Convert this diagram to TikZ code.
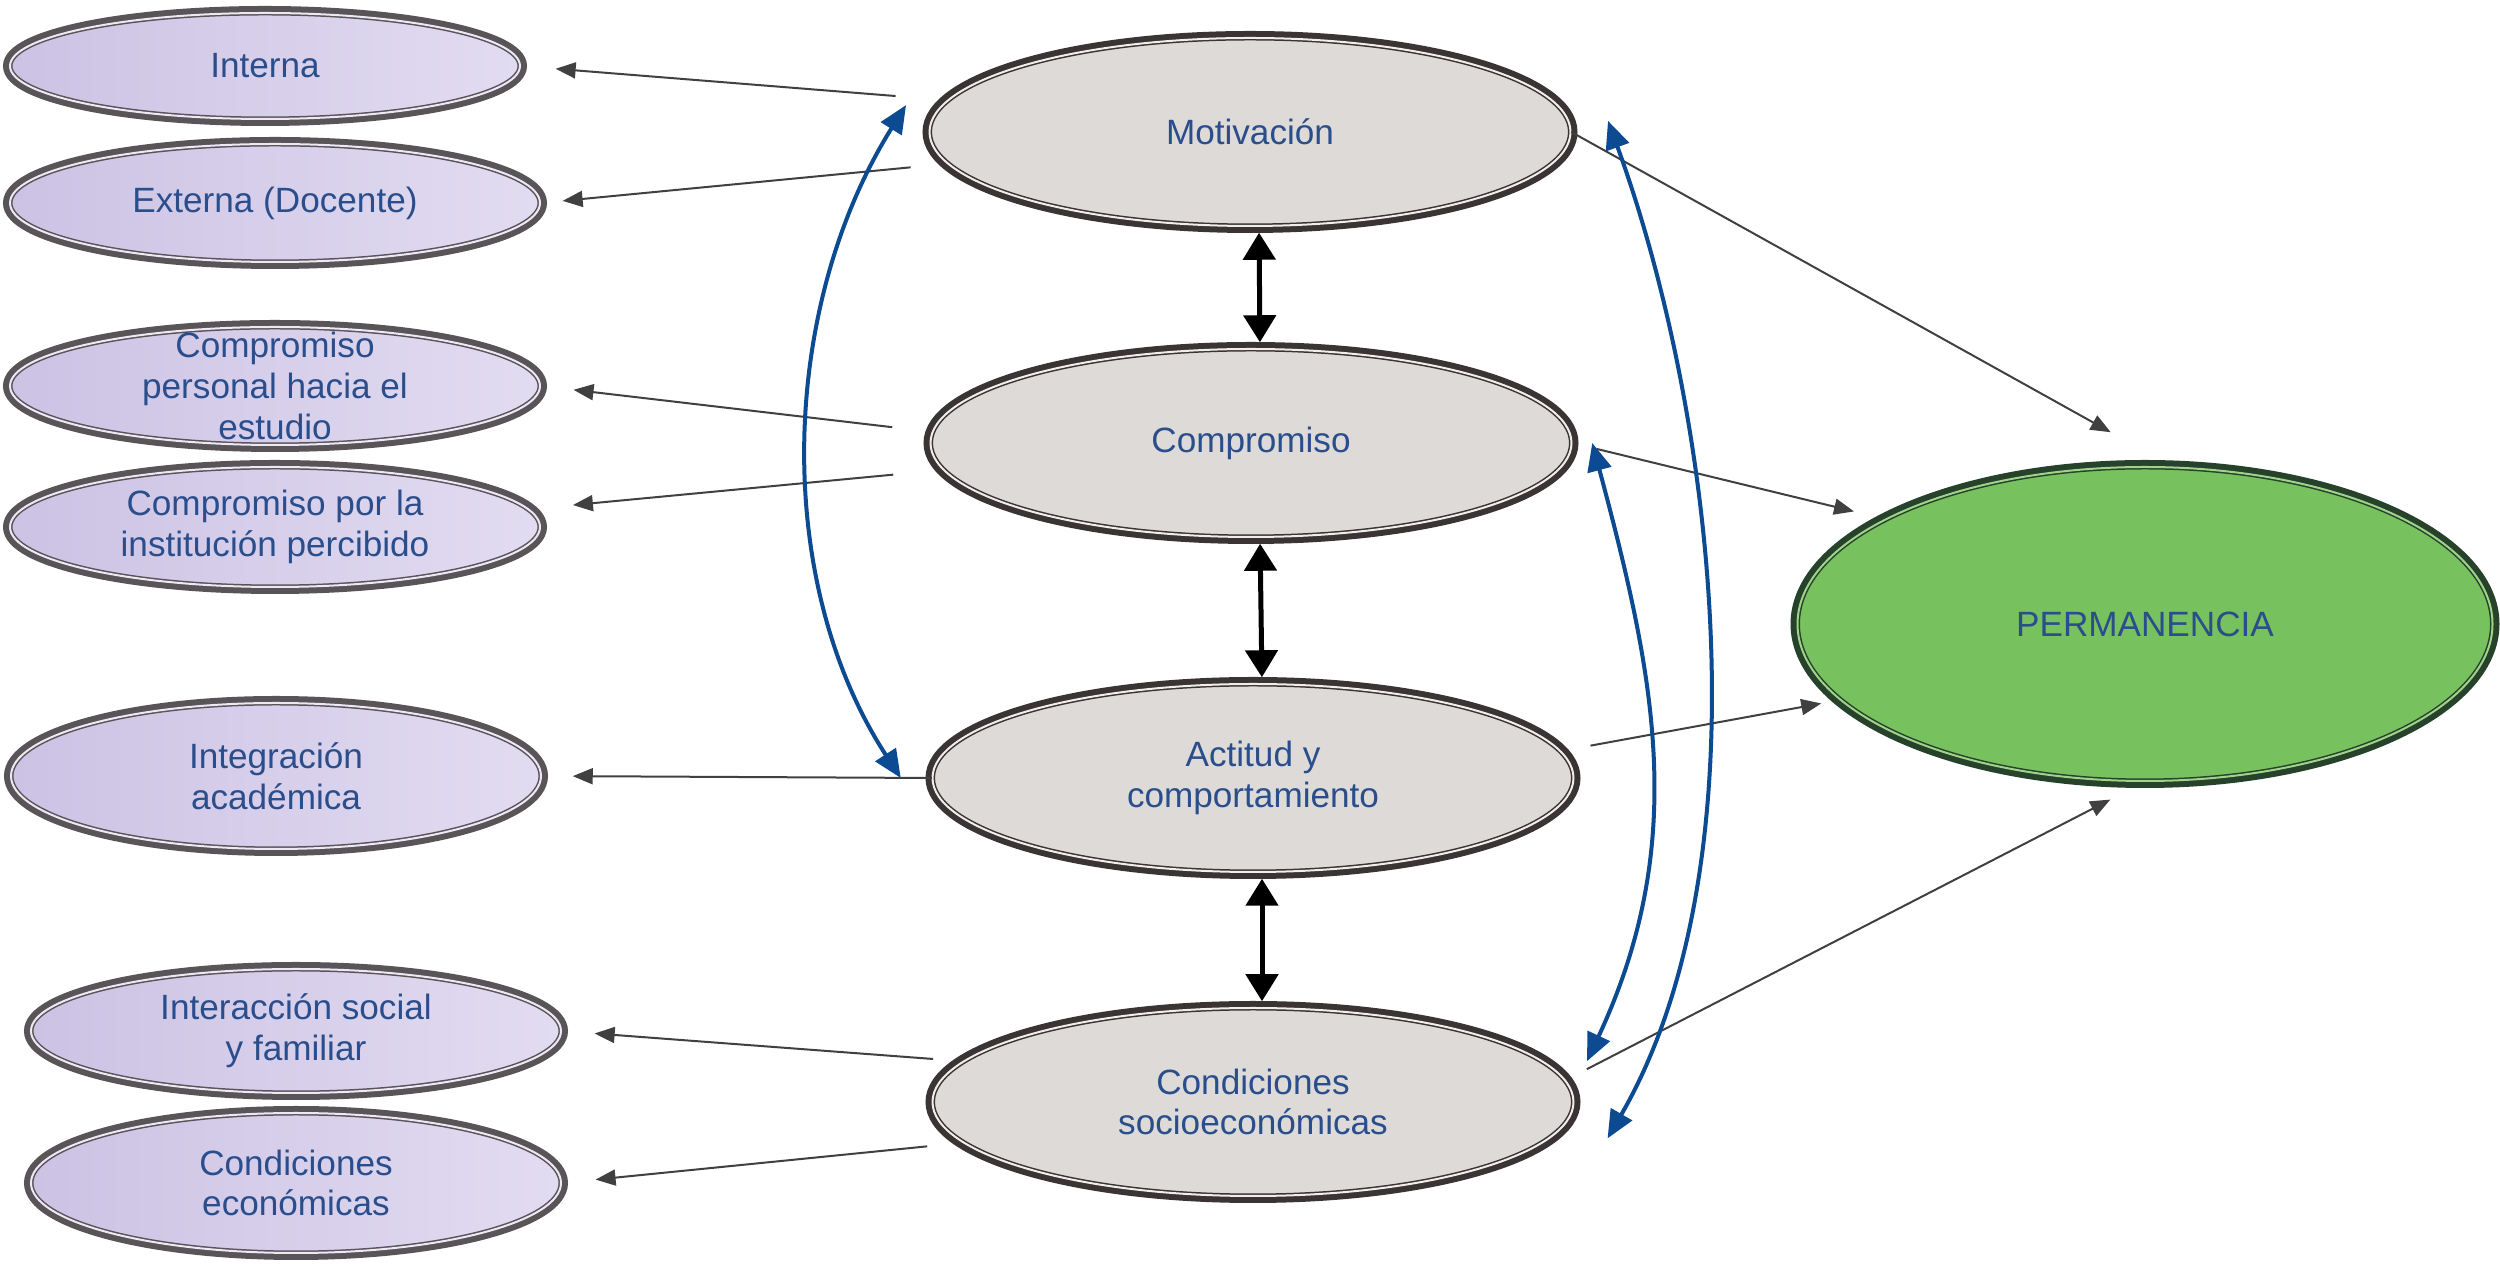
\documentclass[tikz,border=0pt]{standalone}
\usepackage{fontspec}
\setmainfont{Liberation Sans}
\usetikzlibrary{shapes.geometric,arrows.meta}

\definecolor{txtblue}{RGB}{42,78,140}
\definecolor{arcblue}{RGB}{12,74,145}
\definecolor{leafline}{RGB}{88,84,88}
\definecolor{leafgap}{RGB}{236,232,244}
\definecolor{lilacdark}{RGB}{204,194,228}
\definecolor{lilaclight}{RGB}{226,220,241}
\definecolor{coreline}{RGB}{58,52,52}
\definecolor{coregap}{RGB}{240,238,236}
\definecolor{coregrey}{RGB}{221,218,215}
\definecolor{goalline}{RGB}{38,66,42}
\definecolor{goalgap}{RGB}{160,210,140}
\definecolor{goalgreen}{RGB}{120,193,95}

\begin{document}
\begin{tikzpicture}[x=0.1mm, y=0.1mm,
  every node/.style = {align=center, text=txtblue, font=\fontsize{10}{11.6}\selectfont, inner sep=1pt},
  leaf/.style = {ellipse, inner sep=0pt, preaction={draw=leafline, line width=1.4mm},
    draw=leafline, line width=0.15mm, double=leafgap, double distance=0.2mm,
    left color=lilacdark, right color=lilaclight, minimum width=5.3cm, minimum height=1.18cm},
  core/.style = {ellipse, preaction={draw=coreline, line width=1.4mm},
    draw=coreline, line width=0.15mm, double=coregap, double distance=0.2mm,
    fill=coregrey, minimum width=6.41cm, minimum height=1.88cm},
  goal/.style = {ellipse, preaction={draw=goalline, line width=1.4mm},
    draw=goalline, line width=0.15mm, double=goalgap, double distance=0.2mm,
    fill=goalgreen, minimum width=6.95cm, minimum height=3.14cm},
  conn/.style = {draw=black!75, line width=0.2mm, -{Triangle[length=2mm,width=1.6mm]}, shorten >=3.3mm},
  twoway/.style = {draw=black, line width=0.5mm,
    {Triangle[length=2.7mm,width=3.2mm]}-{Triangle[length=2.7mm,width=3.2mm]}, shorten <=0.6mm, shorten >=0.6mm},
  bluearc/.style = {draw=arcblue, line width=0.4mm,
    {Triangle[length=2.8mm,width=2.4mm]}-{Triangle[length=2.8mm,width=2.4mm]}}]
  \useasboundingbox (0,0) rectangle (2500,1269);

  \node[leaf, minimum width=5.1cm, minimum height=1.06cm] (int) at (265,1203) {Interna};
  \node[leaf] (ext) at (275,1066) {Externa (Docente)};
  \node[leaf, inner ysep=-2mm] (cpers) at (275,883) {Compromiso\\personal hacia el\\estudio};
  \node[leaf, minimum height=1.2cm] (cinst) at (275,742) {Compromiso por la\\institución percibido};
  \node[leaf, minimum height=1.46cm] (integ) at (276,493) {Integración\\académica};
  \node[leaf, minimum height=1.24cm] (inter) at (296,238) {Interacción social\\y familiar};
  \node[leaf, minimum height=1.4cm] (econ) at (296,86) {Condiciones\\económicas};

  \node[core] (mot) at (1250,1137) {Motivación};
  \node[core] (comp) at (1251,826) {Compromiso};
  \node[core] (act) at (1253,491) {Actitud y\\comportamiento};
  \node[core] (cond) at (1253,167) {Condiciones\\socioeconómicas};

  \node[goal] (perm) at (2145,645) {PERMANENCIA};

  \draw[conn, shorten <=5.2mm, shorten >=3.5mm] (mot.174) -- (int.east);
  \draw[conn, shorten <=3.7mm, shorten >=2.2mm] (mot.186) -- (ext.east);
  \draw[conn, shorten <=4mm] (comp.178) -- (cpers.east);
  \draw[conn, shorten <=5mm, shorten >=4.4mm] (comp.185) -- (cinst.4);
  \draw[conn, shorten >=3.1mm] (act.west) -- (integ.east);
  \draw[conn, shorten <=3mm] (cond.172) -- (inter.east);
  \draw[conn, shorten <=3.6mm, shorten >=3.4mm] (cond.188) -- (econ.east);

  \draw[conn, shorten >=7.1mm] (mot.east) -- (perm.80);
  \draw[conn, shorten <=2.5mm, shorten >=3.2mm] (comp.east) -- (perm.158);
  \draw[conn, shorten <=3mm, shorten >=1.9mm] (act.5) -- (perm.194);
  \draw[conn, shorten <=2.4mm, shorten >=3.9mm] (cond.4) -- (perm.south);

  \draw[twoway] ([xshift=0.9mm]mot.south) -- ([xshift=0.9mm]comp.north);
  \draw[twoway] ([xshift=0.9mm]comp.south) -- ([xshift=0.9mm]act.north);
  \draw[twoway] ([xshift=0.9mm]act.south) -- ([xshift=0.9mm]cond.north);

  \draw[bluearc] ([xshift=-3.1mm]act.west) to[out=123, in=-122, looseness=0.9] ([xshift=-3.6mm]mot.175);
  \draw[bluearc] ([xshift=2mm]comp.east) to[out=-75, in=65] ([xshift=4.4mm]cond.8);
  \draw[bluearc] ([xshift=3.9mm]mot.2) to[out=-70, in=60, looseness=0.8] ([xshift=5.8mm]cond.-7);
\end{tikzpicture}
\end{document}
